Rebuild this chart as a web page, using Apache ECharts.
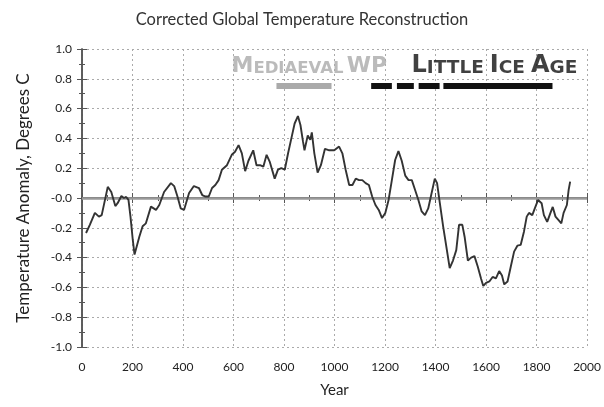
<!DOCTYPE html>
<html><head><meta charset="utf-8">
<script src="https://cdn.jsdelivr.net/npm/echarts@6/dist/echarts.min.js"></script>
<style>html,body{margin:0;padding:0;background:#fff}#c{width:604px;height:407px}</style>
</head><body><div id="c"></div>
<script>
const years = [16,31,51,67,78,102,116,132,141,156,166,175,184,192,201,208,214,227,240,253,273,293,306,325,352,365,378,391,404,424,443,463,476,489,502,515,528,541,554,574,593,606,620,633,646,659,678,691,705,718,731,744,763,776,789,803,816,829,842,855,865,875,881,894,904,910,920,933,946,962,979,999,1018,1031,1044,1058,1071,1084,1097,1110,1123,1136,1149,1162,1175,1188,1201,1214,1227,1240,1253,1266,1280,1293,1306,1319,1332,1345,1358,1371,1384,1397,1406,1417,1430,1443,1456,1469,1482,1493,1506,1515,1528,1541,1554,1567,1580,1589,1600,1613,1626,1639,1652,1663,1672,1685,1698,1711,1724,1737,1750,1761,1770,1783,1793,1806,1820,1829,1842,1855,1864,1875,1888,1898,1907,1920,1927,1933];
const anomaly = [-0.235,-0.18,-0.10,-0.125,-0.115,0.075,0.04,-0.054,-0.035,0.013,0,0.007,-0.013,-0.125,-0.28,-0.38,-0.37,-0.26,-0.19,-0.17,-0.058,-0.08,-0.047,0.04,0.10,0.08,0.01,-0.07,-0.08,0.033,0.08,0.067,0.02,0.01,0.01,0.067,0.087,0.12,0.19,0.22,0.29,0.31,0.355,0.30,0.18,0.25,0.32,0.22,0.22,0.21,0.29,0.24,0.13,0.19,0.20,0.19,0.30,0.40,0.50,0.55,0.49,0.38,0.32,0.42,0.39,0.44,0.30,0.17,0.22,0.33,0.32,0.32,0.345,0.30,0.19,0.087,0.087,0.13,0.12,0.12,0.10,0.087,0.01,-0.047,-0.08,-0.135,-0.10,-0.013,0.12,0.255,0.315,0.25,0.15,0.12,0.12,0.054,-0.013,-0.09,-0.115,-0.07,0.03,0.13,0.10,-0.035,-0.19,-0.33,-0.47,-0.42,-0.35,-0.18,-0.18,-0.26,-0.42,-0.40,-0.39,-0.46,-0.54,-0.59,-0.57,-0.56,-0.53,-0.54,-0.49,-0.52,-0.58,-0.56,-0.46,-0.36,-0.32,-0.315,-0.226,-0.125,-0.10,-0.115,-0.07,-0.013,-0.035,-0.115,-0.16,-0.10,-0.06,-0.125,-0.15,-0.17,-0.10,-0.047,0.054,0.11];
const xTickLabels = ['0','200','400','600','800','1000','1200','1400','1600','1800','2000'];
const yTickLabels = ['-1.0','-0.8','-0.6','-0.4','-0.2','-0.0','0.2','0.4','0.6','0.8','1.0'];
// period bars: [start, end]
const warmPeriod = [[770, 988]];
const icePeriods = [[1145, 1227], [1247, 1314], [1333, 1416], [1431, 1863]];
const periodLevel = 0.755;
const labelLevel = 0.885;
const warmLabelYear = 592;
const iceLabelYear = 1305;

const chart = echarts.init(document.getElementById('c'));
const font = 'Lato';
const axisCommon = {
  axisLine: {show: true, lineStyle: {color: '#555', width: 1.5}},
  axisTick: {show: true, inside: true, length: 5, lineStyle: {color: '#555'}},
  minorTick: {show: true, splitNumber: 2, length: 3, lineStyle: {color: '#555'}},
};
const cap = (c, s) => ({fontSize: s, fontWeight: 'bold', color: c, fontFamily: 'DejaVu Sans', verticalAlign: 'bottom'});
chart.setOption({
  animation: false,
  title: {text: 'Corrected Global Temperature Reconstruction', left: 'center', top: 6,
    textStyle: {fontFamily: font, fontSize: 16.5, fontWeight: 'normal', color: '#333'}},
  grid: {left: 82, right: 12, top: 49, bottom: 60},
  xAxis: [{
    type: 'value', min: 0, max: 2000, interval: 200, ...axisCommon,
    axisLabel: {margin: 14, color: '#222', fontFamily: font, fontSize: 12,
      formatter: (v, i) => xTickLabels[Math.round(v / 200)]},
    splitLine: {show: true, lineStyle: {color: '#aaa', type: [2, 3], width: 1}},
    name: 'Year', nameLocation: 'middle', nameGap: 36,
    nameTextStyle: {fontFamily: font, fontSize: 15, color: '#222'}
  }, {
    type: 'value', position: 'top', min: 0, max: 2000, interval: 200, ...axisCommon,
    axisLabel: {show: false}, splitLine: {show: false}
  }],
  yAxis: [{
    type: 'value', min: -1, max: 1, interval: 0.2, ...axisCommon,
    axisLabel: {margin: 10, color: '#222', fontFamily: font, fontSize: 12,
      formatter: (v) => yTickLabels[Math.round((v + 1) / 0.2)]},
    splitLine: {show: true, lineStyle: {color: '#aaa', type: [2, 3], width: 1}},
    name: 'Temperature Anomaly, Degrees C', nameLocation: 'middle', nameGap: 50,
    nameTextStyle: {fontFamily: font, fontSize: 17, color: '#222'}
  }, {
    type: 'value', position: 'right', min: -1, max: 1, interval: 0.2, ...axisCommon,
    axisLabel: {show: false}, splitLine: {show: false}
  }],
  series: [{
    type: 'line', data: years.map((y, i) => [y, anomaly[i]]), showSymbol: false, symbol: 'none',
    lineStyle: {color: '#333', width: 1.9}, z: 5,
    markLine: {silent: true, symbol: 'none', label: {show: false},
      lineStyle: {color: '#999', width: 2.5, type: 'solid'},
      data: [{yAxis: 0}]}
  }, {
    type: 'line', data: [], showSymbol: false,
    markLine: {silent: true, symbol: 'none', label: {show: false},
      lineStyle: {color: '#aaa', width: 6, type: 'solid', cap: 'butt'},
      data: warmPeriod.map(p => [{coord: [p[0], periodLevel]}, {coord: [p[1], periodLevel]}])}
  }, {
    type: 'line', data: [], showSymbol: false,
    markLine: {silent: true, symbol: 'none', label: {show: false},
      lineStyle: {color: '#111', width: 6, type: 'solid', cap: 'butt'},
      data: icePeriods.map(p => [{coord: [p[0], periodLevel]}, {coord: [p[1], periodLevel]}])}
  }, {
    type: 'scatter', symbolSize: 0, z: 10,
    data: [
      {value: [warmLabelYear, labelLevel], label: {formatter: '{a|M}{b|EDIAEVAL} {a|WP}',
        rich: {a: cap('#aaa', 22), b: cap('#aaa', 16.5)}}},
      {value: [iceLabelYear, labelLevel], label: {formatter: '{a|L}{b|ITTLE}{s| }{a|I}{b|CE}{s| }{a|A}{b|GE}',
        rich: {a: cap('#111', 24), b: cap('#111', 18.5), s: {width: 6, fontSize: 18}}}}
    ],
    label: {show: true, position: [0, 0], align: 'left', verticalAlign: 'middle'}
  }]
});
</script></body></html>
